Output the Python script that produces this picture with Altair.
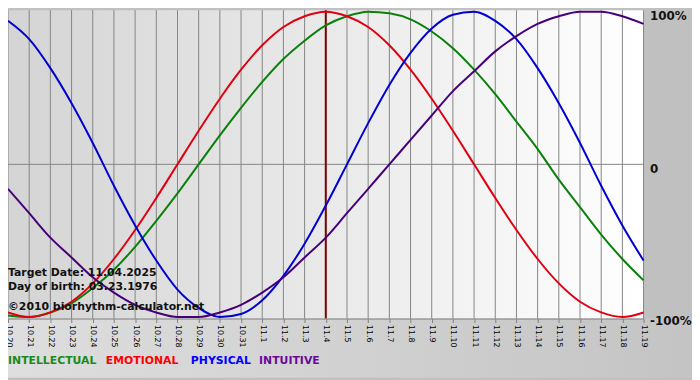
import altair as alt
import pandas as pd

dates = ["10.20", "10.21", "10.22", "10.23", "10.24", "10.25", "10.26", "10.27",
         "10.28", "10.29", "10.30", "10.31", "11.1", "11.2", "11.3", "11.4",
         "11.5", "11.6", "11.7", "11.8", "11.9", "11.10", "11.11", "11.12",
         "11.13", "11.14", "11.15", "11.16", "11.17", "11.18", "11.19"]

intellectual = [-0.99, -1.00, -0.97, -0.91, -0.81, -0.69, -0.54, -0.37, -0.19, 0.00,
                0.19, 0.37, 0.54, 0.69, 0.81, 0.91, 0.97, 1.00, 0.99, 0.95,
                0.87, 0.76, 0.62, 0.46, 0.28, 0.10, -0.10, -0.28, -0.46, -0.62, -0.76]
emotional = [-0.97, -1.00, -0.97, -0.90, -0.78, -0.62, -0.43, -0.22, 0.00, 0.22,
             0.43, 0.62, 0.78, 0.90, 0.97, 1.00, 0.97, 0.90, 0.78, 0.62,
             0.43, 0.22, 0.00, -0.22, -0.43, -0.62, -0.78, -0.90, -0.97, -1.00, -0.97]
physical = [0.94, 0.82, 0.63, 0.40, 0.14, -0.14, -0.40, -0.63, -0.82, -0.94,
            -1.00, -0.98, -0.89, -0.73, -0.52, -0.27, 0.00, 0.27, 0.52, 0.73,
            0.89, 0.98, 1.00, 0.94, 0.82, 0.63, 0.40, 0.14, -0.14, -0.40, -0.63]
intuitive = [-0.16, -0.32, -0.48, -0.61, -0.74, -0.84, -0.92, -0.97, -1.00, -1.00,
             -0.97, -0.92, -0.84, -0.74, -0.61, -0.48, -0.32, -0.16, 0.00, 0.16,
             0.32, 0.48, 0.61, 0.74, 0.84, 0.92, 0.97, 1.00, 1.00, 0.97, 0.92]

series_names = ["INTELLECTUAL", "EMOTIONAL", "PHYSICAL", "INTUITIVE"]
series_values = [intellectual, emotional, physical, intuitive]
line_colors = ["#0a800a", "#e00010", "#0000d0", "#45007a"]
legend_colors = ["#1a8a1a", "#ff0000", "#0000ff", "#6a0a9a"]
target_date = "11.4"
info_lines = ["Target Date: 11.04.2025", "Day of birth: 03.23.1976",
              "\u00a92010 biorhythm-calculator.net"]
y_ticks = [-1, 0, 1]

rows = []
for name, vals in zip(series_names, series_values):
    for d, v in zip(dates, vals):
        rows.append({"date": d, "value": v, "series": name})
df = pd.DataFrame(rows)
dates_df = pd.DataFrame({"date": dates})
one = alt.Data(values=[{}])

FONT = "DejaVu Sans"

xscale = alt.Scale(type="point", padding=0)
yscale = alt.Scale(domain=[-1.01, 1.01], nice=False, zero=False)

plot_bg = alt.Chart(one).mark_rect(
    fill=alt.LinearGradient(gradient="linear", x1=0, x2=1, y1=0, y2=0,
                            stops=[alt.GradientStop(color="#d4d4d4", offset=0),
                                   alt.GradientStop(color="#ffffff", offset=1)])
).encode(x=alt.value(0), x2=alt.value("width"), y=alt.value(0), y2=alt.value("height"))

bottom_bg = alt.Chart(one).mark_rect(
    clip=False,
    fill=alt.LinearGradient(gradient="linear", x1=0, x2=1, y1=0, y2=0,
                            stops=[alt.GradientStop(color="#dedede", offset=0),
                                   alt.GradientStop(color="#c4c4c4", offset=1)])
).encode(x=alt.value(0), x2=alt.value(692), y=alt.value("height"), y2=alt.value(372))

grid = alt.Chart(dates_df).mark_rule(color="#858585", strokeWidth=1).encode(
    x=alt.X("date:O", sort=dates, scale=xscale,
            axis=alt.Axis(title=None, labelAngle=90, labelFont=FONT, labelFontSize=8,
                          labelColor="#000000", labelOverlap=False, labelFlush=False,
                          labelPadding=2, tickSize=4, tickColor="#808080",
                          domainColor="#808080", grid=False, zindex=1))
)

zero_rule = alt.Chart(pd.DataFrame({"v": [0]})).mark_rule(color="#858585", strokeWidth=1).encode(
    y=alt.Y("v:Q", scale=yscale,
            axis=alt.Axis(orient="right", title=None, values=y_ticks,
                          labelExpr="datum.value == 1 ? '100%' : datum.value == 0 ? '0' : '-100%'",
                          labelFont=FONT, labelFontSize=12, labelFontWeight="bold",
                          labelColor="#111111", labelPadding=6, labelOffset=4,
                          labelAlign="left", labelBaseline="middle",
                          ticks=False, domain=False, grid=False, zindex=1))
)

target = alt.Chart(pd.DataFrame({"date": [target_date]})).mark_rule(
    color="#800000", strokeWidth=2).encode(x=alt.X("date:O", sort=dates, scale=xscale))

line_layers = []
for name in series_names:
    line_layers.append(
        alt.Chart(df).transform_filter(alt.datum.series == name)
        .mark_line(strokeWidth=2, interpolate="monotone").encode(
            x=alt.X("date:O", sort=dates, scale=xscale),
            y=alt.Y("value:Q", scale=yscale),
            color=alt.Color("series:N",
                            scale=alt.Scale(domain=series_names, range=line_colors),
                            legend=None),
        )
    )

info_layers = []
for txt, yb in zip(info_lines, [269, 283, 303]):
    info_layers.append(
        alt.Chart(one).mark_text(text=txt, font=FONT, fontSize=11, fontWeight="bold",
                                 color="#111111", align="left", baseline="alphabetic")
        .encode(x=alt.value(0), y=alt.value(yb))
    )

legend_layers = []
for name, col, xp in zip(series_names, legend_colors, [0, 99, 185, 254]):
    legend_layers.append(
        alt.Chart(one).mark_text(text=name, font=FONT, fontSize=11, fontWeight="bold",
                                 color=col, align="left", baseline="alphabetic", clip=False)
        .encode(x=alt.value(xp), y=alt.value(358))
    )

chart = alt.layer(
    bottom_bg, plot_bg, grid, zero_rule, target,
    *line_layers, *info_layers, *legend_layers
).properties(
    width=643, height=312,
    autosize=alt.AutoSizeParams(type="none"),
    padding={"left": 0, "top": 0, "right": 49, "bottom": 60},
    background="#c0c0c0"
).configure_view(stroke=None)

chart.save("out.html", embed_options={"renderer": "svg", "actions": False})
